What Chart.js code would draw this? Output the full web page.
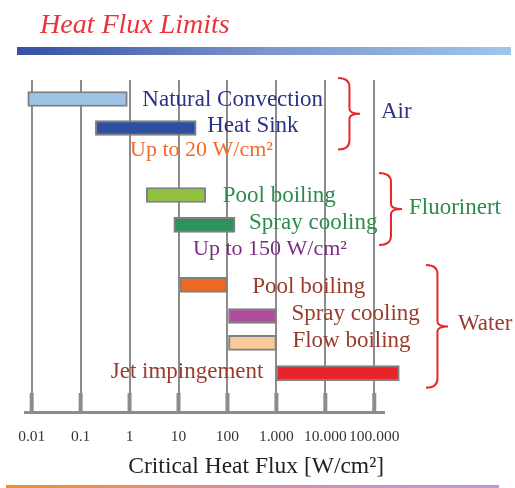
<!DOCTYPE html>
<html>
<head>
<meta charset="utf-8">
<script src="https://cdn.jsdelivr.net/npm/chart.js@4"></script>
<style>
  html, body { margin: 0; padding: 0; background: #fff; }
  #wrap { width: 515px; height: 488px; }
</style>
</head>
<body>
<div id="wrap"><canvas id="fluxChart" width="515" height="488"></canvas></div>
<script>
// cooling methods and their critical heat flux range [W/cm2]
const methods = ['Natural Convection', 'Heat Sink', 'Pool boiling', 'Spray cooling',
                 'Pool boiling', 'Spray cooling', 'Flow boiling', 'Jet impingement'];
const lowFlux  = [0.0083, 0.2, 2.2, 8, 10.7, 105, 105, 1000];
const highFlux = [0.9, 23, 36, 143, 99, 1000, 1000, 325000];
const coolants = ['Air', 'Fluorinert', 'Water'];
const limitNotes = ['Up to 20 W/cm²', 'Up to 150 W/cm²'];
const tickValues = [0.01, 0.1, 1, 10, 100, 1000, 10000, 100000];
const tickLabels = ['0.01', '0.1', '1', '10', '100', '1.000', '10.000', '100.000'];

// layout (rows on the hidden y scale, 0 at top)
const barRows   = [0.63, 1.59, 3.81, 4.80, 6.79, 7.82, 8.71, 9.71];
const barColors = ['#9dc3e6', '#2f4fa0', '#92c13e', '#2e9160', '#ee6a22', '#b04e9e', '#f9c99a', '#e8242a'];
const labelRows = [0.86, 1.72, 4.04, 4.94, 7.06, 7.95, 8.85, 9.87];
const labelGap  = [15, 11, 17, 14, 25, 15, 16, -13];   // negative = left of bar start
const NAVY = '#2d3384', GREEN = '#2e8b4e', BROWN = '#9a3b2c';
const labelColors = [NAVY, NAVY, GREEN, GREEN, BROWN, BROWN, BROWN, BROWN];
const notes = [
  { x: 130, row: 2.52, color: '#f26b2a' },
  { x: 193, row: 5.80, color: '#7b2d84' }
];
const groups = [
  { x0: 338, x1: 360, top: -0.07, bottom: 2.30, textX: 381, row: 1.26, color: NAVY },
  { x0: 379, x1: 402, top: 3.08, bottom: 5.47, textX: 409, row: 4.44, color: GREEN },
  { x0: 426, x1: 448, top: 6.13, bottom: 10.2, textX: 458, row: 8.28, color: BROWN }
];

Chart.defaults.font.family = '"Liberation Serif", "DejaVu Serif", serif';

function drawBrace(ctx, x0, x1, y0, y1) {
  const xs = x0 + (x1 - x0) * 0.52;
  const ym = (y0 + y1) / 2;
  const r = 9, rm = 5;
  ctx.beginPath();
  ctx.moveTo(x0, y0);
  ctx.quadraticCurveTo(xs, y0, xs, y0 + r);
  ctx.lineTo(xs, ym - rm);
  ctx.quadraticCurveTo(xs, ym, x1, ym);
  ctx.quadraticCurveTo(xs, ym, xs, ym + rm);
  ctx.lineTo(xs, y1 - r);
  ctx.quadraticCurveTo(xs, y1, x0, y1);
  ctx.stroke();
}

const decorations = {
  id: 'decorations',
  beforeDraw(chart) {
    const ctx = chart.ctx;
    ctx.save();
    // slide title
    ctx.font = 'italic 28px "Liberation Serif", serif';
    ctx.fillStyle = '#e8353d';
    ctx.textBaseline = 'alphabetic';
    ctx.fillText('Heat Flux Limits', 40, 33);
    // blue band under title
    let g = ctx.createLinearGradient(17, 0, 511, 0);
    g.addColorStop(0, '#3550a5');
    g.addColorStop(0.5, '#7a95ca');
    g.addColorStop(1, '#a0c6ea');
    ctx.fillStyle = g;
    ctx.fillRect(17, 47, 494, 8);
    // bottom band
    g = ctx.createLinearGradient(6, 0, 499, 0);
    g.addColorStop(0, '#f0902a');
    g.addColorStop(0.5, '#d98fa8');
    g.addColorStop(1, '#b99ad2');
    ctx.fillStyle = g;
    ctx.fillRect(6, 485, 493, 3);
    ctx.restore();
  },
  afterDatasetsDraw(chart) {
    const { ctx, scales: { x, y }, chartArea } = chart;
    ctx.save();
    // thick tick stubs above the axis line
    ctx.fillStyle = '#8c8c8c';
    tickValues.forEach(v => {
      const px = x.getPixelForValue(v);
      ctx.fillRect(px - 2, chartArea.bottom - 19, 4, 19);
    });
    ctx.font = '23px "Liberation Serif", serif';
    ctx.textBaseline = 'alphabetic';
    // method labels
    methods.forEach((m, i) => {
      ctx.fillStyle = labelColors[i];
      const gap = labelGap[i];
      if (gap >= 0) {
        ctx.textAlign = 'left';
        ctx.fillText(m, x.getPixelForValue(highFlux[i]) + gap, y.getPixelForValue(labelRows[i]));
      } else {
        ctx.textAlign = 'right';
        ctx.fillText(m, x.getPixelForValue(lowFlux[i]) + gap, y.getPixelForValue(labelRows[i]));
      }
    });
    ctx.textAlign = 'left';
    ctx.font = '22px "Liberation Serif", serif';
    notes.forEach((n, i) => {
      ctx.fillStyle = n.color;
      ctx.fillText(limitNotes[i], n.x, y.getPixelForValue(n.row));
    });
    // braces and coolant names
    ctx.font = '23px "Liberation Serif", serif';
    groups.forEach((gr, i) => {
      ctx.strokeStyle = '#e8262c';
      ctx.lineWidth = 2;
      drawBrace(ctx, gr.x0, gr.x1, y.getPixelForValue(gr.top), y.getPixelForValue(gr.bottom));
      ctx.fillStyle = gr.color;
      ctx.fillText(coolants[i], gr.textX, y.getPixelForValue(gr.row));
    });
    ctx.restore();
  }
};

new Chart(document.getElementById('fluxChart').getContext('2d'), {
  type: 'bar',
  data: {
    labels: methods,
    datasets: [{
      data: methods.map((m, i) => ({ x: [lowFlux[i], highFlux[i]], y: barRows[i] })),
      backgroundColor: barColors,
      borderColor: '#808080',
      borderWidth: 2,
      borderSkipped: false,
      barThickness: 15,
      clip: false
    }]
  },
  options: {
    indexAxis: 'y',
    responsive: false,
    animation: false,
    layout: { padding: { top: 80, left: 25, right: 131, bottom: 0 } },
    plugins: {
      legend: { display: false },
      tooltip: { enabled: false }
    },
    scales: {
      y: { type: 'linear', min: 0, max: 11, reverse: true, offset: false, display: false },
      x: {
        type: 'logarithmic',
        min: 0.0073,
        max: 158000,
        afterBuildTicks: s => { s.ticks = tickValues.map(v => ({ value: v })); },
        afterFit: s => { s.height = 76; },
        grid: { color: '#8c8c8c', lineWidth: 2, drawTicks: false },
        border: { color: '#8c8c8c', width: 3 },
        ticks: {
          autoSkip: false,
          maxRotation: 0,
          padding: 16,
          color: '#333',
          font: { size: 15.5 },
          callback: (v, i) => tickLabels[i]
        },
        title: {
          display: true,
          text: 'Critical Heat Flux [W/cm²]',
          align: 'end',
          color: '#222',
          font: { size: 23.5 },
          padding: { top: 0, bottom: 7 }
        }
      }
    }
  },
  plugins: [decorations]
});
</script>
</body>
</html>
